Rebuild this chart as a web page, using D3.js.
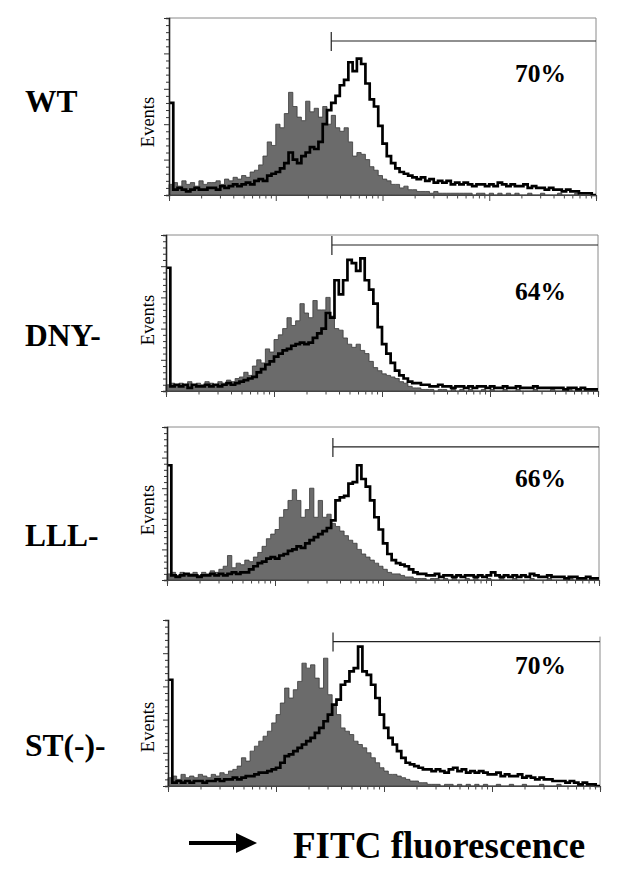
<!DOCTYPE html>
<html>
<head>
<meta charset="utf-8">
<script src="https://cdn.jsdelivr.net/npm/d3@7"></script>
<style>
  body { margin: 0; background: #fff; }
  svg { display: block; }
</style>
</head>
<body>
<div id="chart"></div>
<script>
// strain names, gated percentages and gate start (channel, 0-100 scale)
const strains = ["WT", "DNY-", "LLL-", "ST(-)-"];
const percents = ["70%", "64%", "66%", "70%"];
const gateStart = [38, 38.4, 38.4, 38.2];

// control histograms (grey fill), 100 channels each, % of panel height
const control1 = [
  6, 7, 5, 8, 6, 7, 5, 8, 6, 7,
  7, 8, 6, 9, 8, 10, 9, 11, 10, 13,
  14, 17, 22, 30, 28, 40, 38, 46, 58, 50,
  44, 42, 53, 47, 49, 44, 50, 40, 45, 38,
  36, 38, 30, 22, 24, 23, 20, 16, 14, 11,
  9, 8, 6, 6, 4, 5, 3, 3, 2, 2,
  2, 1, 2, 1, 1, 1, 1, 1, 1, 1,
  1, 0, 1, 1, 0, 1, 0, 1, 0, 1,
  0, 1, 0, 0, 1, 0, 0, 1, 0, 0,
  0, 1, 0, 0, 0, 1, 0, 0, 0, 0
];
const control2 = [
  4, 5, 3, 5, 4, 6, 4, 5, 4, 6,
  5, 4, 6, 5, 7, 6, 8, 9, 12, 10,
  16, 20, 18, 27, 25, 33, 36, 40, 47, 42,
  45, 56, 50, 47, 58, 52, 52, 60, 48, 40,
  39, 34, 30, 28, 30, 26, 24, 19, 15, 13,
  11, 10, 9, 8, 6, 5, 3, 2, 2, 1,
  1, 1, 0, 1, 1, 0, 1, 0, 1, 0,
  1, 0, 0, 1, 0, 1, 0, 0, 1, 0,
  0, 1, 0, 0, 0, 1, 0, 0, 0, 1,
  0, 0, 0, 1, 0, 0, 0, 0, 0, 0
];
const control3 = [
  4, 5, 3, 5, 4, 4, 5, 3, 5, 4,
  6, 5, 7, 9, 16, 8, 11, 10, 13, 12,
  15, 18, 22, 27, 30, 33, 41, 46, 52, 59,
  52, 41, 46, 60, 41, 52, 41, 43, 37, 35,
  32, 29, 26, 24, 20, 17, 15, 13, 11, 9,
  7, 5, 4, 4, 3, 2, 2, 1, 1, 1,
  0, 1, 1, 0, 1, 0, 1, 0, 0, 1,
  0, 1, 0, 0, 1, 0, 0, 1, 0, 0,
  1, 0, 0, 0, 1, 0, 0, 0, 1, 0,
  0, 0, 0, 1, 0, 0, 0, 0, 0, 0
];
const control4 = [
  5, 6, 4, 7, 5, 6, 5, 7, 6, 5,
  7, 6, 8, 7, 9, 10, 12, 17, 15, 21,
  24, 27, 30, 33, 38, 43, 50, 59, 53, 58,
  63, 74, 71, 73, 65, 59, 77, 55, 49, 43,
  35, 33, 31, 27, 25, 23, 20, 17, 14, 11,
  9, 7, 7, 6, 5, 4, 3, 3, 2, 2,
  1, 1, 1, 0, 1, 1, 0, 1, 0, 1,
  0, 1, 0, 1, 0, 0, 1, 0, 0, 1,
  0, 0, 1, 0, 0, 0, 1, 0, 0, 0,
  1, 0, 0, 0, 0, 1, 0, 0, 0, 0
];

// stained sample histograms (black line)
const sample1 = [
  52, 3, 4, 3, 2, 3, 4, 3, 3, 4,
  4, 3, 5, 4, 5, 6, 5, 6, 7, 6,
  8, 9, 8, 11, 12, 13, 15, 18, 24, 20,
  18, 22, 24, 27, 26, 30, 40, 48, 52, 56,
  62, 65, 75, 70, 77, 74, 63, 54, 50, 39,
  29, 22, 18, 15, 13, 12, 11, 10, 9, 10,
  8, 9, 7, 8, 7, 8, 6, 7, 6, 7,
  6, 5, 6, 6, 5, 6, 5, 7, 6, 5,
  6, 5, 5, 6, 4, 5, 4, 4, 3, 4,
  3, 3, 2, 3, 2, 2, 1, 1, 1, 0
];
const sample2 = [
  79, 3, 4, 3, 4, 2, 4, 3, 3, 4,
  3, 4, 3, 4, 5, 4, 5, 6, 7, 8,
  9, 12, 14, 17, 19, 22, 24, 26, 27, 29,
  30, 31, 30, 31, 34, 37, 40, 50, 47, 71,
  62, 71, 84, 82, 77, 85, 71, 65, 56, 41,
  30, 24, 18, 13, 10, 8, 6, 5, 5, 4,
  4, 3, 3, 4, 3, 3, 2, 3, 3, 2,
  3, 2, 3, 3, 2, 3, 2, 2, 3, 2,
  2, 3, 2, 2, 2, 3, 2, 2, 2, 2,
  2, 2, 1, 2, 2, 1, 2, 1, 1, 1
];
const sample3 = [
  75, 3, 2, 3, 4, 3, 3, 2, 3, 3,
  4, 3, 4, 3, 4, 5, 4, 5, 5, 7,
  9, 11, 12, 14, 15, 14, 16, 17, 19, 20,
  22, 21, 24, 26, 28, 30, 32, 34, 39, 52,
  54, 55, 63, 64, 75, 66, 61, 52, 41, 33,
  24, 17, 13, 11, 10, 9, 7, 5, 4, 4,
  3, 3, 4, 2, 3, 3, 2, 3, 2, 3,
  3, 2, 3, 2, 3, 5, 3, 2, 3, 2,
  3, 2, 3, 2, 4, 3, 2, 2, 3, 2,
  2, 2, 1, 2, 2, 1, 1, 2, 1, 1
];
const sample4 = [
  64, 2, 3, 2, 3, 2, 3, 3, 2, 3,
  3, 4, 3, 4, 4, 5, 4, 5, 6, 6,
  7, 8, 8, 9, 10, 11, 14, 18, 19, 21,
  23, 25, 27, 29, 32, 35, 39, 43, 49, 52,
  61, 63, 69, 71, 84, 69, 67, 61, 53, 43,
  35, 29, 25, 21, 17, 14, 13, 12, 11, 10,
  10, 9, 10, 9, 8, 10, 11, 9, 10, 8,
  9, 8, 9, 8, 7, 7, 8, 6, 7, 6,
  6, 7, 5, 6, 5, 4, 5, 4, 4, 3,
  3, 3, 2, 3, 2, 1, 2, 1, 1, 0
];

const controls = [control1, control2, control3, control4];
const samples = [sample1, sample2, sample3, sample4];

const SERIF = "Liberation Serif";

// layout (pixels)
const W = 617, H = 878;
const boxes = [
  { l: 169, r: 596, t: 18, b: 195, top: true },
  { l: 166, r: 598, t: 235, b: 391, top: true },
  { l: 167, r: 599, t: 427, b: 580, top: true },
  { l: 168, r: 600, t: 620, b: 786, top: false }
];
const gateLevel = [87, 93.6, 87, 87];
const labelY = [112, 346, 546, 756];
const eventsY = [122, 320, 510, 727];
const pctY = [82, 300, 487, 674];

const svg = d3.select("#chart").append("svg")
  .attr("width", W)
  .attr("height", H);

function boldText(sel, size) {
  return sel.attr("font-family", SERIF)
    .attr("font-size", size)
    .attr("font-weight", "bold")
    .attr("fill", "#000");
}

boxes.forEach((bx, k) => {
  const x = d3.scaleLinear().domain([0, 100]).range([bx.l, bx.r]);
  const xLog = d3.scaleLog().domain([1, 1e4]).range([bx.l, bx.r]);
  const y = d3.scaleLinear().domain([0, 100]).range([bx.b, bx.t]);

  const g = svg.append("g");

  // frame (top + right), light grey
  if (bx.top) {
    g.append("line")
      .attr("x1", bx.l).attr("x2", bx.r)
      .attr("y1", bx.t).attr("y2", bx.t)
      .attr("stroke", "#8a8a8a").attr("stroke-width", 1);
  }
  g.append("line")
    .attr("x1", bx.r).attr("x2", bx.r)
    .attr("y1", bx.top ? bx.t : y(gateLevel[k] + 3)).attr("y2", bx.b)
    .attr("stroke", "#8a8a8a").attr("stroke-width", 1);

  // channel i covers [i, i+1]; repeat last value to close the final step
  const toSteps = arr => arr.map((v, i) => [i, v]).concat([[arr.length, arr[arr.length - 1]]]);
  const ctrl = toSteps(controls[k]);
  const smp = toSteps(samples[k]);

  // control: grey filled histogram
  const area = d3.area()
    .x(d => x(d[0]))
    .y0(y(0))
    .y1(d => y(d[1]))
    .curve(d3.curveStepAfter);

  g.append("path")
    .datum(ctrl)
    .attr("d", area)
    .attr("fill", "#6b6b6b")
    .attr("stroke", "#3a3a3a")
    .attr("stroke-width", 0.8);

  // sample: thick black outline
  const line = d3.line()
    .x(d => x(d[0]))
    .y(d => y(d[1]))
    .curve(d3.curveStepAfter);

  g.append("path")
    .datum(smp)
    .attr("d", line)
    .attr("fill", "none")
    .attr("stroke", "#000")
    .attr("stroke-width", 2.7)
    .attr("stroke-linejoin", "miter");

  // y axis with minor ticks
  const yAxis = g.append("g")
    .attr("transform", "translate(" + bx.l + ",0)")
    .call(d3.axisLeft(y).tickValues(d3.range(0, 101, 4)).tickSize(3).tickFormat(""));
  yAxis.selectAll(".tick line")
    .attr("x2", d => (d % 20 === 0 ? -5 : -3))
    .attr("stroke", "#333");
  yAxis.select(".domain").attr("stroke", "#222").attr("stroke-width", 1.6);

  // x axis (log decades)
  const xAxis = g.append("g")
    .attr("transform", "translate(0," + bx.b + ")")
    .call(d3.axisBottom(xLog).tickValues(xLog.ticks()).tickSize(4).tickFormat(""));
  xAxis.selectAll(".tick line")
    .attr("y2", d => (Math.abs(Math.log10(d) % 1) < 1e-9 ? 6 : 3.5))
    .attr("stroke", "#444");
  xAxis.select(".domain").attr("stroke", "#444").attr("stroke-width", 1.2);

  // gate marker
  const gx = x(gateStart[k]);
  const gy = y(gateLevel[k]);
  g.append("line")
    .attr("x1", gx).attr("x2", bx.r)
    .attr("y1", gy).attr("y2", gy)
    .attr("stroke", "#222").attr("stroke-width", 1.2);
  g.append("line")
    .attr("x1", gx).attr("x2", gx)
    .attr("y1", gy - 9).attr("y2", gy + 10)
    .attr("stroke", "#222").attr("stroke-width", 1.2);

  // percent
  boldText(g.append("text"), 25.5)
    .attr("x", 515).attr("y", pctY[k])
    .text(percents[k]);

  // Events label
  g.append("text")
    .attr("font-family", SERIF)
    .attr("transform", "translate(154," + eventsY[k] + ") rotate(-90)")
    .attr("text-anchor", "middle")
    .attr("font-size", 18.5)
    .text("Events");

  // strain label
  boldText(svg.append("text"), 31.5)
    .attr("x", 25).attr("y", labelY[k])
    .text(strains[k]);
});

// bottom axis title with arrow
svg.append("line")
  .attr("x1", 189).attr("x2", 240)
  .attr("y1", 843).attr("y2", 843)
  .attr("stroke", "#000").attr("stroke-width", 4);
svg.append("path")
  .attr("d", "M236,833 L257,843 L236,853 Z")
  .attr("fill", "#000");
boldText(svg.append("text"), 37)
  .attr("x", 293).attr("y", 858)
  .text("FITC fluorescence");
</script>
</body>
</html>
